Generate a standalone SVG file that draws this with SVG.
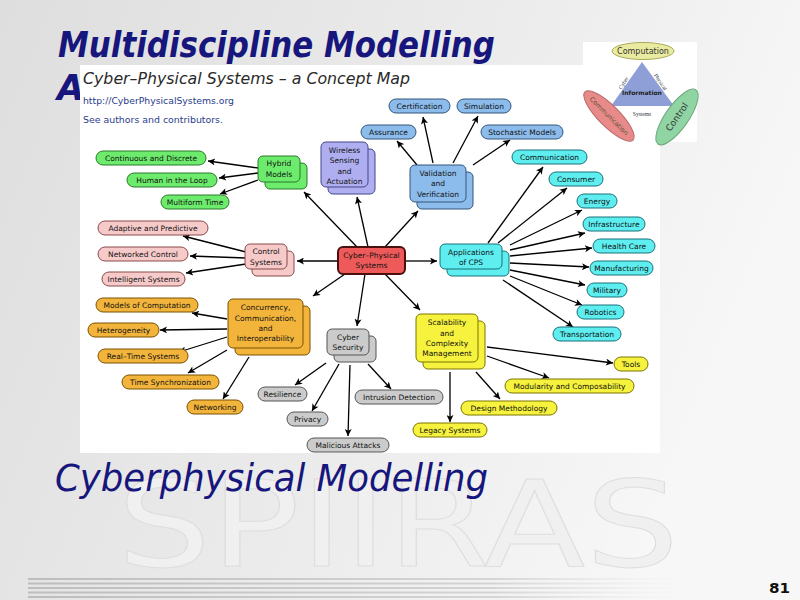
<svg xmlns="http://www.w3.org/2000/svg" width="800" height="600" viewBox="0 0 800 600">
<defs>
<linearGradient id="bg" x1="0" y1="0" x2="1" y2="0.3">
<stop offset="0" stop-color="#dedede"/><stop offset="0.6" stop-color="#ececec"/><stop offset="1" stop-color="#f7f7f7"/>
</linearGradient>
<linearGradient id="fl" x1="0" y1="0" x2="1" y2="0">
<stop offset="0" stop-color="#bdbdbd"/><stop offset="0.7" stop-color="#d4d4d4"/><stop offset="1" stop-color="#e8e8e8" stop-opacity="0"/>
</linearGradient>
<marker id="ah" viewBox="0 0 10 10" refX="10" refY="5" markerWidth="9" markerHeight="7" markerUnits="userSpaceOnUse" orient="auto">
<path d="M0,0 L10,5 L0,10 L2.5,5 z" fill="#000"/>
</marker>
<style>
.n text{font-family:"DejaVu Sans","Liberation Sans",sans-serif;font-size:7.5px;text-anchor:middle;fill:#111}
.n rect{stroke-width:1}
.green{fill:#6ceb6c;stroke:#2a7a2a}
.pink{fill:#f7caca;stroke:#8a4a4a}
.orange{fill:#f3b43c;stroke:#7a5200}
.grey{fill:#cbcbcb;stroke:#555}
.yellow{fill:#f6f23e;stroke:#7a7600}
.cyan{fill:#5eeef0;stroke:#17737a}
.blue{fill:#8cbcec;stroke:#33557a}
.lav{fill:#aeaef0;stroke:#45458a}
.red{fill:#ee5a5a;stroke:#4a1010;stroke-width:2px!important}
#connectors line{stroke:#000;stroke-width:1.3;marker-end:url(#ah)}
.hdr{font-family:"DejaVu Sans",sans-serif;fill:#16167c}
</style>
</defs>
<rect width="800" height="600" fill="url(#bg)"/>
<text x="117" y="566" font-family="DejaVu Sans,sans-serif" font-size="120" fill="#f0f0f0" stroke="#dadada" stroke-width="1" stroke-opacity="0.8" textLength="562" lengthAdjust="spacingAndGlyphs">SPIIRAS</text>
<g id="footer-lines">
<rect x="28" y="578" width="660" height="2" fill="url(#fl)"/>
<rect x="28" y="582.5" width="660" height="2" fill="url(#fl)"/>
<rect x="28" y="587" width="660" height="2" fill="url(#fl)"/>
<rect x="28" y="591.5" width="660" height="2" fill="url(#fl)"/>
<rect x="28" y="596" width="660" height="2" fill="url(#fl)"/>
</g>
<text class="hdr" x="58" y="57" font-size="36" font-weight="bold" font-style="italic" textLength="437" lengthAdjust="spacingAndGlyphs">Multidiscipline Modelling</text>
<text class="hdr" x="57" y="100" font-size="35" font-weight="bold" font-style="italic">A</text>
<rect x="80" y="65" width="580" height="388" fill="#fff"/>
<text x="83" y="84" font-family="DejaVu Sans,sans-serif" font-size="16" font-style="italic" fill="#2a2a2a" textLength="327" lengthAdjust="spacingAndGlyphs">Cyber–Physical Systems – a Concept Map</text>
<text x="83" y="104" font-family="DejaVu Sans,sans-serif" font-size="9.5" fill="#2a3c8c" textLength="151" lengthAdjust="spacingAndGlyphs">http://CyberPhysicalSystems.org</text>
<text x="83" y="123" font-family="DejaVu Sans,sans-serif" font-size="9.5" fill="#2a3c8c" textLength="140" lengthAdjust="spacingAndGlyphs">See authors and contributors.</text>
<g id="cps-triad" font-family="DejaVu Sans,sans-serif" text-anchor="middle">
<rect x="583" y="42" width="114" height="100" fill="#fff"/>
<polygon points="642,62 611,106 674,106" fill="#8e9ed6"/>
<ellipse cx="643" cy="51" rx="31" ry="8.5" fill="#e9eca0" stroke="#a9a85a"/>
<text x="643" y="54" font-size="8" fill="#333">Computation</text>
<text x="642" y="95" font-size="6" font-weight="bold" fill="#222">Information</text>
<text transform="translate(625,84) rotate(-58)" font-size="5.5" font-family="Liberation Serif,serif" fill="#334">Cyber</text>
<text transform="translate(659,83) rotate(56)" font-size="5.5" font-family="Liberation Serif,serif" fill="#334">Physical</text>
<text x="642" y="116" font-size="5.5" font-family="Liberation Serif,serif" fill="#334">Systems</text>
<g transform="translate(609,116) rotate(45)"><ellipse rx="34" ry="10.5" fill="#e98a8a" stroke="#b86a6a"/><text y="2.2" font-size="6.5" fill="#553">Communication</text></g>
<g transform="translate(677,117) rotate(-55)"><ellipse rx="33" ry="11.5" fill="#90d4a4" stroke="#6aa878"/><text y="3" font-size="9" fill="#333">Control</text></g>
</g>
<g id="connectors">
<line x1="357" y1="247" x2="304" y2="192"/>
<line x1="368" y1="247" x2="357" y2="197"/>
<line x1="385" y1="247" x2="418" y2="211"/>
<line x1="338" y1="261" x2="297" y2="261"/>
<line x1="405" y1="261" x2="437" y2="261"/>
<line x1="345" y1="274" x2="313" y2="296"/>
<line x1="365" y1="274" x2="357" y2="326"/>
<line x1="385" y1="274" x2="420" y2="310"/>
<line x1="258" y1="168" x2="208" y2="161"/>
<line x1="258" y1="173" x2="219" y2="178"/>
<line x1="258" y1="180" x2="220" y2="194"/>
<line x1="246" y1="252" x2="183" y2="236"/>
<line x1="246" y1="258" x2="190" y2="256"/>
<line x1="246" y1="264" x2="186" y2="273"/>
<line x1="417" y1="165" x2="397" y2="141"/>
<line x1="433" y1="163" x2="423" y2="117"/>
<line x1="453" y1="163" x2="478" y2="116"/>
<line x1="473" y1="165" x2="510" y2="140"/>
<line x1="488" y1="243" x2="543" y2="167"/>
<line x1="498" y1="243" x2="567" y2="188"/>
<line x1="510" y1="245" x2="582" y2="210"/>
<line x1="510" y1="250" x2="585" y2="233"/>
<line x1="510" y1="256" x2="592" y2="248"/>
<line x1="510" y1="263" x2="589" y2="267"/>
<line x1="510" y1="270" x2="585" y2="285"/>
<line x1="510" y1="276" x2="582" y2="305"/>
<line x1="503" y1="280" x2="573" y2="327"/>
<line x1="487" y1="347" x2="613" y2="363"/>
<line x1="487" y1="356" x2="549" y2="378"/>
<line x1="476" y1="372" x2="500" y2="399"/>
<line x1="450" y1="372" x2="450" y2="422"/>
<line x1="227" y1="319" x2="192" y2="313"/>
<line x1="227" y1="329" x2="160" y2="330"/>
<line x1="227" y1="337" x2="179" y2="352"/>
<line x1="227" y1="350" x2="188" y2="373"/>
<line x1="249" y1="357" x2="223" y2="399"/>
<line x1="326" y1="363" x2="295" y2="385"/>
<line x1="339" y1="364" x2="312" y2="411"/>
<line x1="350" y1="365" x2="348" y2="436"/>
<line x1="368" y1="364" x2="391" y2="389"/>
</g>
<g id="nodes">
<g id="n-hybrid" class="n"><rect class="green" x="265" y="163" width="42" height="26" rx="5"/><rect class="green" x="258" y="156" width="42" height="26" rx="5"/><text x="279" y="166">Hybrid</text><text x="279" y="177">Models</text></g>
<g id="n-wireless" class="n"><rect class="lav" x="328" y="149" width="47" height="45" rx="5"/><rect class="lav" x="321" y="142" width="47" height="45" rx="5"/><text x="344.5" y="152.5">Wireless</text><text x="344.5" y="163">Sensing</text><text x="344.5" y="173.5">and</text><text x="344.5" y="184">Actuation</text></g>
<g id="n-validation" class="n"><rect class="blue" x="417" y="172" width="56" height="37" rx="5"/><rect class="blue" x="410" y="165" width="56" height="37" rx="5"/><text x="438" y="175.5">Validation</text><text x="438" y="186">and</text><text x="438" y="196.5">Verification</text></g>
<g id="n-control" class="n"><rect class="pink" x="252" y="251" width="42" height="25" rx="5"/><rect class="pink" x="245" y="244" width="42" height="25" rx="5"/><text x="266" y="254">Control</text><text x="266" y="265">Systems</text></g>
<g id="n-cps" class="n"><rect class="red" x="338" y="247" width="67" height="27" rx="5"/><text x="371.5" y="257.5">Cyber–Physical</text><text x="371.5" y="268">Systems</text></g>
<g id="n-apps" class="n"><rect class="cyan" x="447" y="251" width="62" height="25" rx="5"/><rect class="cyan" x="440" y="244" width="62" height="25" rx="5"/><text x="471" y="254.5">Applications</text><text x="471" y="265">of CPS</text></g>
<g id="n-concurrency" class="n"><rect class="orange" x="235" y="306" width="75" height="49" rx="5"/><rect class="orange" x="228" y="299" width="75" height="49" rx="5"/><text x="265.5" y="310">Concurrency,</text><text x="265.5" y="320.5">Communication,</text><text x="265.5" y="331">and</text><text x="265.5" y="341">Interoperability</text></g>
<g id="n-security" class="n"><rect class="grey" x="334" y="336" width="42" height="26" rx="5"/><rect class="grey" x="327" y="329" width="42" height="26" rx="5"/><text x="348" y="339.5">Cyber</text><text x="348" y="350">Security</text></g>
<g id="n-scalability" class="n"><rect class="yellow" x="423" y="321" width="62" height="48" rx="5"/><rect class="yellow" x="416" y="314" width="62" height="48" rx="5"/><text x="447" y="325">Scalability</text><text x="447" y="335.5">and</text><text x="447" y="345.5">Complexity</text><text x="447" y="356">Management</text></g>

<g id="n-continuous" class="n"><rect class="green" x="96" y="151" width="110" height="14" rx="7"/><text x="151" y="161">Continuous and Discrete</text></g>
<g id="n-human" class="n"><rect class="green" x="127" y="173" width="90" height="14" rx="7"/><text x="172" y="183">Human in the Loop</text></g>
<g id="n-multiform" class="n"><rect class="green" x="161" y="195" width="68" height="14" rx="7"/><text x="195" y="205">Multiform Time</text></g>
<g id="n-adaptive" class="n"><rect class="pink" x="98" y="221" width="110" height="14" rx="7"/><text x="153" y="231">Adaptive and Predictive</text></g>
<g id="n-networked" class="n"><rect class="pink" x="98" y="247" width="90" height="14" rx="7"/><text x="143" y="257">Networked Control</text></g>
<g id="n-intelligent" class="n"><rect class="pink" x="102" y="272" width="83" height="14" rx="7"/><text x="143.5" y="282">Intelligent Systems</text></g>
<g id="n-models" class="n"><rect class="orange" x="96" y="298" width="102" height="14" rx="7"/><text x="147" y="308">Models of Computation</text></g>
<g id="n-hetero" class="n"><rect class="orange" x="88" y="323" width="71" height="14" rx="7"/><text x="123.5" y="333">Heterogeneity</text></g>
<g id="n-realtime" class="n"><rect class="orange" x="98" y="349" width="90" height="14" rx="7"/><text x="143" y="359">Real–Time Systems</text></g>
<g id="n-timesync" class="n"><rect class="orange" x="122" y="375" width="97" height="14" rx="7"/><text x="170.5" y="385">Time Synchronization</text></g>
<g id="n-networking" class="n"><rect class="orange" x="187" y="400" width="56" height="14" rx="7"/><text x="215" y="410">Networking</text></g>
<g id="n-resilience" class="n"><rect class="grey" x="258" y="387" width="49" height="14" rx="7"/><text x="282.5" y="397">Resilience</text></g>
<g id="n-privacy" class="n"><rect class="grey" x="287" y="412" width="41" height="14" rx="7"/><text x="307.5" y="422">Privacy</text></g>
<g id="n-malicious" class="n"><rect class="grey" x="307" y="438" width="82" height="14" rx="7"/><text x="348" y="448">Malicious Attacks</text></g>
<g id="n-intrusion" class="n"><rect class="grey" x="355" y="390" width="88" height="14" rx="7"/><text x="399" y="400">Intrusion Detection</text></g>
<g id="n-tools" class="n"><rect class="yellow" x="614" y="357" width="34" height="14" rx="7"/><text x="631" y="367">Tools</text></g>
<g id="n-modularity" class="n"><rect class="yellow" x="505" y="379" width="129" height="14" rx="7"/><text x="569.5" y="389">Modularity and Composability</text></g>
<g id="n-design" class="n"><rect class="yellow" x="461" y="401" width="96" height="14" rx="7"/><text x="509" y="411">Design Methodology</text></g>
<g id="n-legacy" class="n"><rect class="yellow" x="413" y="423" width="74" height="14" rx="7"/><text x="450" y="433">Legacy Systems</text></g>
<g id="n-communication" class="n"><rect class="cyan" x="512" y="150" width="75" height="14" rx="7"/><text x="549.5" y="160">Communication</text></g>
<g id="n-consumer" class="n"><rect class="cyan" x="549" y="172" width="54" height="14" rx="7"/><text x="576" y="182">Consumer</text></g>
<g id="n-energy" class="n"><rect class="cyan" x="577" y="194" width="40" height="14" rx="7"/><text x="597" y="204">Energy</text></g>
<g id="n-infrastructure" class="n"><rect class="cyan" x="583" y="217" width="62" height="14" rx="7"/><text x="614" y="227">Infrastructure</text></g>
<g id="n-health" class="n"><rect class="cyan" x="593" y="239" width="62" height="14" rx="7"/><text x="624" y="249">Health Care</text></g>
<g id="n-manufacturing" class="n"><rect class="cyan" x="590" y="261" width="63" height="14" rx="7"/><text x="621.5" y="271">Manufacturing</text></g>
<g id="n-military" class="n"><rect class="cyan" x="587" y="283" width="40" height="14" rx="7"/><text x="607" y="293">Military</text></g>
<g id="n-robotics" class="n"><rect class="cyan" x="577" y="305" width="47" height="14" rx="7"/><text x="600.5" y="315">Robotics</text></g>
<g id="n-transportation" class="n"><rect class="cyan" x="553" y="327" width="68" height="14" rx="7"/><text x="587" y="337">Transportation</text></g>
<g id="n-certification" class="n"><rect class="blue" x="389" y="99" width="61" height="14" rx="7"/><text x="419.5" y="109">Certification</text></g>
<g id="n-simulation" class="n"><rect class="blue" x="457" y="99" width="54" height="14" rx="7"/><text x="484" y="109">Simulation</text></g>
<g id="n-assurance" class="n"><rect class="blue" x="361" y="125" width="55" height="14" rx="7"/><text x="388.5" y="135">Assurance</text></g>
<g id="n-stochastic" class="n"><rect class="blue" x="481" y="125" width="82" height="14" rx="7"/><text x="522" y="135">Stochastic Models</text></g>
</g>
<text class="hdr" x="55" y="491" font-size="37" font-style="italic" textLength="433" lengthAdjust="spacingAndGlyphs">Cyberphysical Modelling</text>
<text x="769" y="593" font-family="DejaVu Sans,sans-serif" font-size="14" font-weight="bold" fill="#111" textLength="21" lengthAdjust="spacingAndGlyphs">81</text>
</svg>
